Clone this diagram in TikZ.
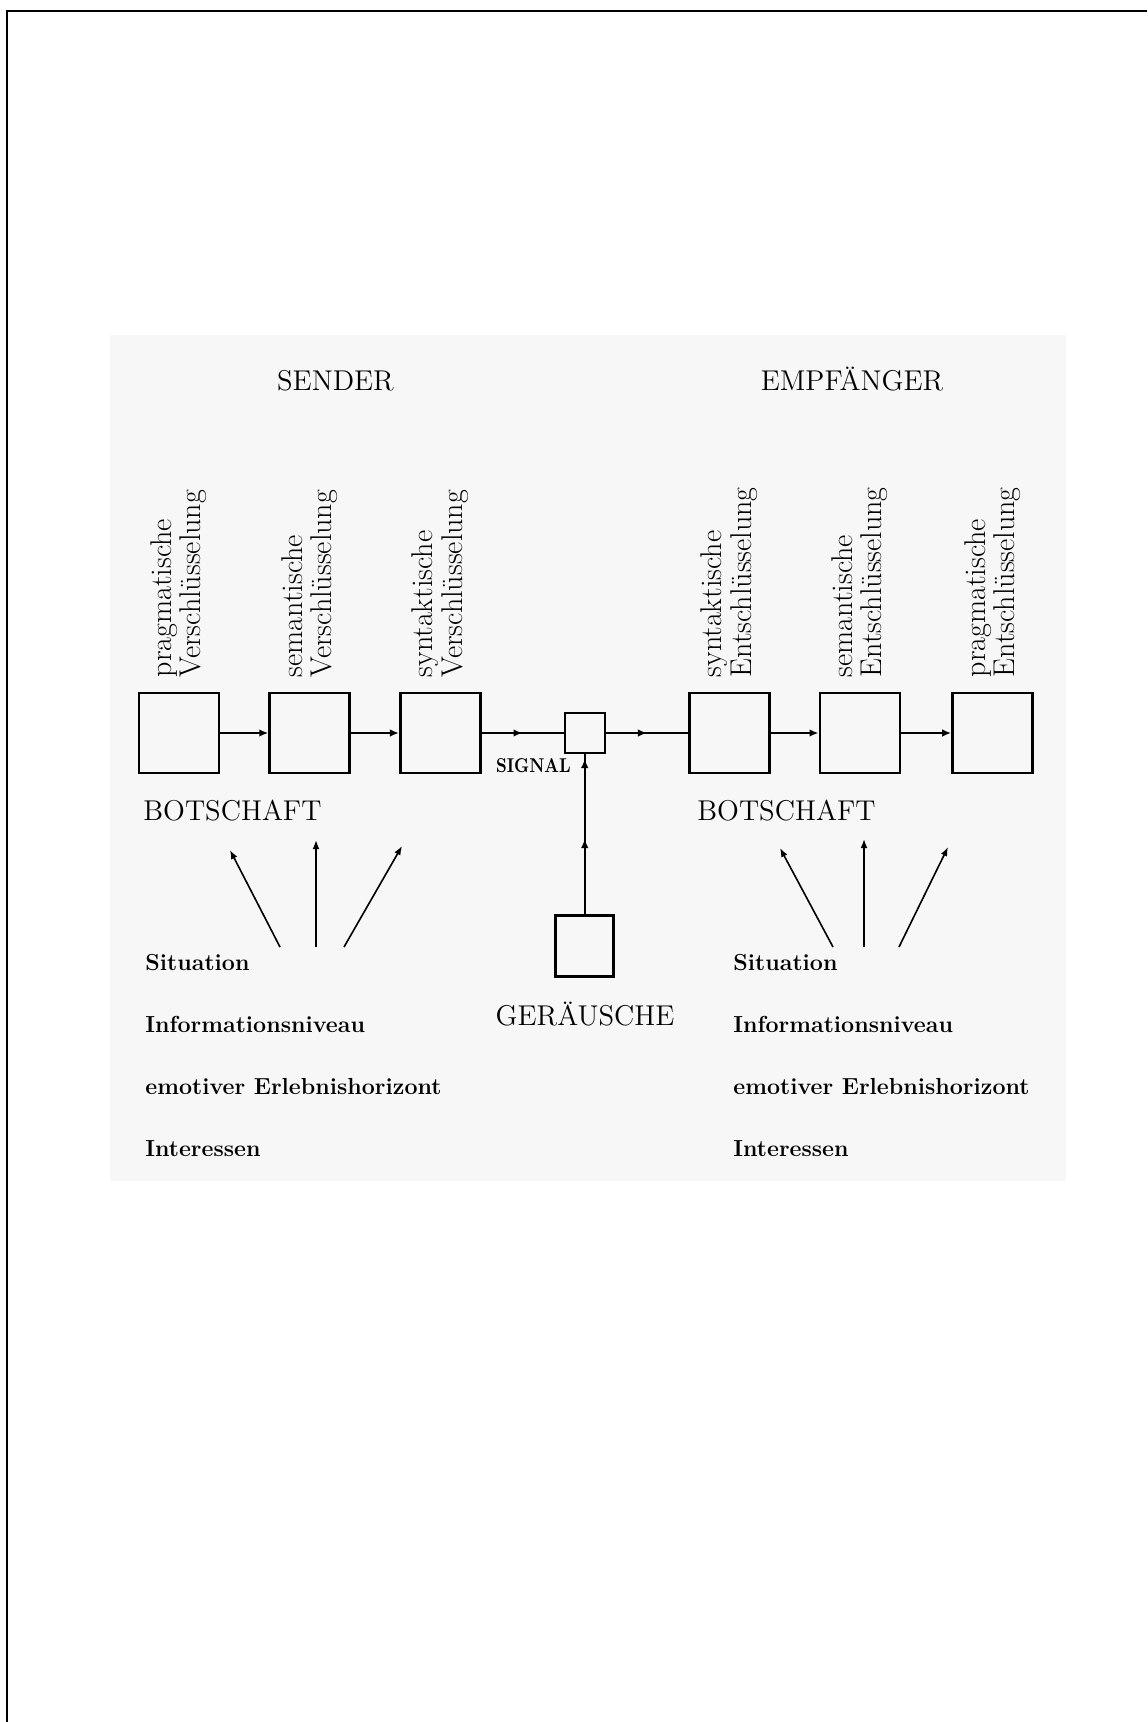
\documentclass[tikz,border=0pt]{standalone}
\usepackage{tikz}
\usetikzlibrary{arrows.meta,positioning,decorations.markings}

\begin{document}
\begin{tikzpicture}[x=0.5pt,y=-0.5pt,
 box/.style={draw,line width=1.3pt,minimum size=40pt,inner sep=0pt},
 sigbox/.style={box,minimum size=20pt,line width=1.2pt},
 lbl/.style={rotate=90,align=left,inner sep=0pt,font=\fontsize{15}{14.6}\selectfont},
 head/.style={inner sep=0pt,font=\fontsize{14.3}{16}\selectfont},
 lst/.style={align=left,inner sep=0pt,font=\fontsize{11.6}{31}\selectfont\bfseries},
 arr/.style={-{Latex[length=4.5pt,width=3.8pt]},line width=1pt},
 fan/.style={-{Latex[length=4.5pt,width=3.4pt]},line width=0.8pt},
 midarr/.style={postaction={decorate,decoration={markings,
   mark=at position #1 with {\arrow{Latex[length=4.5pt,width=3.8pt]}}}}},
 node distance=24pt]
\useasboundingbox (0,0) rectangle (1147,1722);
\fill[black!3] (110,335) rectangle (1066,1181);
\draw[line width=1pt] (6.5,1722) |- (1147,11);
% Kette der Kästen
\node[box] (b1) at (179,733) {};
\node[box,right=of b1] (b2) {};
\node[box,right=of b2] (b3) {};
\node[sigbox,right=41pt of b3] (sig) {};
\node[box,right=41pt of sig] (b4) {};
\node[box,right=of b4] (b5) {};
\node[box,right=25pt of b5] (b6) {};
\node[box,minimum width=29pt,minimum height=30.5pt,below=80pt of sig] (ger) {};
% Beschriftungen
\node[lbl,above=7pt of b1,anchor=west] (l1) {pragmatische\\Verschlüsselung};
\node[lbl,above=7pt of b2,anchor=west] (l2) {semantische\\Verschlüsselung};
\node[lbl,above=7pt of b3,anchor=west] (l3) {syntaktische\\Verschlüsselung};
\node[lbl,above=7pt of b4,anchor=west] (l4) {syntaktische\\Entschlüsselung};
\node[lbl,above=7pt of b5,anchor=west] (l5) {semantische\\Entschlüsselung};
\node[lbl,above=7pt of b6,anchor=west] (l6) {pragmatische\\Entschlüsselung};
\node[head,anchor=base] (snd) at (335.5,390) {SENDER};
\node[head,anchor=base] (emp) at (852,390) {EMPFÄNGER};
\node[head,anchor=base west] (bot1) at (143,820) {BOTSCHAFT};
\node[head,anchor=base west] (bot2) at (697,820) {BOTSCHAFT};
\node[inner sep=0pt,anchor=base east,xscale=0.84,font=\fontsize{10}{12}\selectfont\bfseries] (sigl) at (571,772) {SIGNAL};
\node[head,anchor=base] (gerl) at (585,1025) {GERÄUSCHE};
\node[lst,anchor=north west] (ctx1) at (145,954) {Situation\\Informationsniveau\\emotiver Erlebnishorizont\\Interessen};
\node[lst,anchor=north west] (ctx2) at (733,954) {Situation\\Informationsniveau\\emotiver Erlebnishorizont\\Interessen};
% Pfeile
\draw[arr] (b1) -- (b2);
\draw[arr] (b2) -- (b3);
\draw[line width=1pt,midarr=0.5] (b3) -- (sig);
\draw[line width=1pt,midarr=0.5] (sig) -- (b4);
\draw[arr] (b4) -- (b5);
\draw[arr] (b5) -- (b6);
\draw[line width=1pt,midarr=0.47,midarr=0.97] (ger) -- (sig);
\coordinate (s1) at (280,947); \coordinate (t1) at (230,850);
\coordinate (s2) at (316,947); \coordinate (t2) at (316,840);
\coordinate (s3) at (344,947); \coordinate (t3) at (402,846);
\coordinate (s4) at (833,947); \coordinate (t4) at (780,848);
\coordinate (s5) at (864,947); \coordinate (t5) at (864,839);
\coordinate (s6) at (899,947); \coordinate (t6) at (948,847);
\draw[fan] (s1) -- (t1);
\draw[fan] (s2) -- (t2);
\draw[fan] (s3) -- (t3);
\draw[fan] (s4) -- (t4);
\draw[fan] (s5) -- (t5);
\draw[fan] (s6) -- (t6);
\end{tikzpicture}
\end{document}
